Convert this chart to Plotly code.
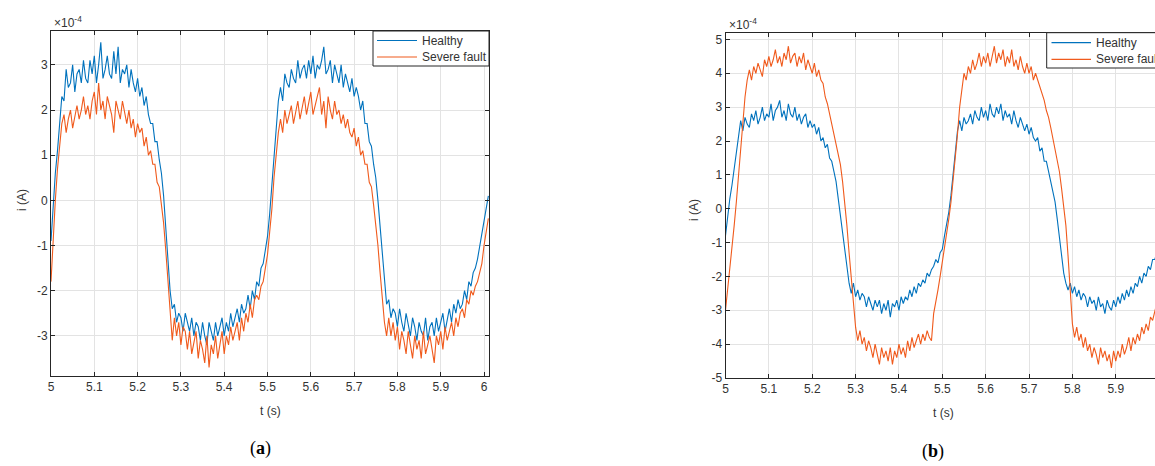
import plotly.graph_objects as go

# ---------------- data (current in units of 1e-4 A) ----------------
T_START = 5.0
DT = 0.005

healthy_a = [
    -0.9, 0.0, 0.6, 1.1, 1.7, 2.3, 2.2, 2.9, 2.5, 2.6,
    3.0, 2.4, 2.8, 2.9, 2.6, 3.1, 2.7, 2.6, 3.1, 2.8,
    3.2, 2.6, 3.0, 3.5, 2.7, 2.9, 3.2, 2.8, 2.7, 3.3,
    2.8, 3.4, 2.6, 2.9, 2.8, 3.0, 2.5, 2.9, 2.6, 2.4,
    2.7, 2.3, 2.5, 2.1, 2.3, 1.9, 1.7, 1.7, 1.3, 1.3,
    0.9, 0.6, 0.1, -0.6, -1.4, -2.0, -2.4, -2.3, -2.7, -2.5,
    -2.6, -2.9, -2.5, -2.7, -2.9, -2.6, -3.0, -2.7, -2.8, -3.1,
    -2.7, -3.0, -3.2, -2.7, -2.9, -3.1, -2.7, -3.0, -2.8, -2.6,
    -3.0, -2.7, -2.9, -2.5, -2.8, -2.6, -2.4, -2.7, -2.3, -2.5,
    -2.4, -2.1, -2.4, -2.0, -2.2, -1.8, -1.9, -1.5, -1.4, -1.1,
    -0.8, -0.3, 0.3, 0.9, 1.6, 2.2, 2.5, 2.2, 2.8, 2.6,
    2.5, 2.9, 2.7, 2.6, 3.1, 2.7, 2.9, 3.0, 2.7, 3.1,
    2.8, 3.2, 2.7, 3.0, 2.9, 3.1, 3.4, 2.8, 2.9, 3.1,
    2.6, 3.0, 2.8, 2.6, 3.0, 2.5, 2.8, 2.6, 2.4, 2.7,
    2.3, 2.5, 2.3, 2.0, 2.2, 1.7, 1.7, 1.3, 1.2, 0.8,
    0.5, 0.0, -0.6, -1.3, -1.9, -2.3, -2.2, -2.6, -2.4, -2.5,
    -2.8, -2.4, -2.7, -2.9, -2.5, -2.8, -3.0, -2.6, -2.8, -3.1,
    -2.7, -2.9, -3.0, -2.6, -3.1, -2.8, -2.7, -3.0, -2.6, -2.9,
    -2.7, -2.5, -2.9, -2.6, -2.4, -2.7, -2.3, -2.5, -2.2, -2.4,
    -2.3, -2.0, -2.2, -1.8, -1.9, -1.6, -1.5, -1.3, -1.0, -0.8,
    -0.5, -0.2, 0.1,
]

fault_a = [
    -1.8, -0.8, 0.0, 0.7, 1.3, 1.7, 1.9, 1.5, 1.8, 2.0,
    1.6, 1.9, 2.1, 1.8, 2.0, 2.3, 1.9, 2.1, 1.8, 2.2,
    2.4, 1.9, 2.6, 2.0, 2.2, 1.8, 2.3, 2.1, 1.9, 1.5,
    2.2, 2.0, 1.8, 2.2, 1.9, 1.7, 2.0, 1.6, 1.8, 1.4,
    1.7, 1.5, 1.6, 1.2, 1.4, 1.0, 1.1, 0.8, 0.8, 0.4,
    0.3, -0.1, -0.5, -1.1, -1.8, -2.5, -3.1, -2.6, -3.0, -2.7,
    -3.2, -2.8, -2.9, -3.3, -2.9, -3.4, -3.1, -2.9, -3.5, -3.1,
    -3.3, -3.6, -3.0, -3.7, -3.2, -3.4, -3.0, -3.5, -3.2, -2.9,
    -3.4, -3.0, -3.2, -2.8, -3.1, -2.9, -2.7, -3.1, -2.6, -2.9,
    -2.5, -2.7, -2.3, -2.6, -2.2, -2.1, -2.2, -1.9, -1.8, -1.5,
    -1.2, -0.7, -0.2, 0.5, 1.1, 1.5, 1.8, 1.5, 2.0, 1.7,
    1.9, 2.1, 1.7, 2.0, 2.2, 1.8, 2.1, 2.3, 1.9, 2.2,
    2.4, 1.9, 2.1, 2.3, 2.5, 1.9, 2.2, 1.6, 2.3, 2.0,
    1.8, 2.2, 1.9, 2.0, 1.7, 1.9, 1.6, 1.8, 1.5, 1.4,
    1.6, 1.2, 1.4, 1.0, 1.1, 0.8, 0.8, 0.4, 0.3, -0.1,
    -0.5, -1.0, -1.6, -2.2, -2.7, -3.0, -2.6, -3.0, -2.7, -3.1,
    -2.8, -3.3, -2.9, -3.1, -3.4, -2.9, -3.2, -3.5, -3.0, -3.3,
    -3.1, -3.5, -2.9, -3.4, -3.2, -3.0, -3.3, -3.6, -3.0, -3.2,
    -2.9, -3.3, -2.8, -3.1, -2.9, -2.7, -3.0, -2.6, -2.8, -2.5,
    -2.4, -2.6, -2.2, -2.3, -2.0, -2.1, -1.9, -1.8, -1.6, -1.4,
    -1.0, -0.7, -0.4,
]

healthy_b = [
    -0.8, -0.2, 0.3, 0.7, 1.2, 1.7, 2.2, 2.6, 2.3, 2.7,
    2.5, 2.4, 2.8, 2.6, 2.9, 2.5, 2.7, 3.0, 2.6, 2.8,
    2.7, 3.1, 2.6, 2.9, 3.0, 3.2, 2.7, 2.9, 2.6, 3.1,
    2.8, 2.7, 3.0, 2.6, 2.8, 2.5, 2.7, 2.8, 2.4, 2.6,
    2.4, 2.5, 2.2, 2.4, 2.0, 2.1, 1.8, 1.9, 1.5, 1.4,
    1.1, 0.8, 0.3, -0.2, -0.7, -1.3, -1.8, -2.2, -2.5, -2.2,
    -2.6, -2.4, -2.7, -2.5, -2.6, -2.9, -2.6, -2.8, -3.0, -2.7,
    -2.9, -2.7, -3.1, -2.8, -3.0, -2.7, -3.2, -2.8, -2.9, -2.7,
    -3.0, -2.6, -2.8, -2.6, -2.7, -2.4, -2.6, -2.3, -2.5, -2.2,
    -2.3, -2.1, -2.2, -1.9, -2.0, -1.8, -1.7, -1.5, -1.6, -1.3,
    -1.2, -0.8, -0.5, -0.1, 0.4, 1.0, 1.7, 2.3, 2.6, 2.3,
    2.7, 2.5, 2.6, 2.8, 2.5, 2.9, 2.7, 2.6, 3.0, 2.7,
    2.9, 2.6, 3.1, 2.8, 2.7, 3.0, 2.8, 3.1, 2.6, 2.9,
    2.7, 2.8, 2.5, 2.9, 2.6, 2.4, 2.7, 2.5, 2.3, 2.5,
    2.2, 2.4, 2.1, 2.0, 2.1, 1.7, 1.8, 1.4, 1.4, 1.1,
    0.8, 0.5, 0.2, -0.3, -0.8, -1.4, -1.9, -2.2, -2.4, -2.2,
    -2.5, -2.3, -2.6, -2.4, -2.7, -2.5, -2.6, -2.9, -2.6, -2.8,
    -2.7, -3.0, -2.6, -2.9, -2.8, -3.1, -2.7, -2.9, -3.0, -2.7,
    -2.9, -2.6, -2.8, -2.5, -2.7, -2.4, -2.6, -2.3, -2.5, -2.2,
    -2.3, -2.0, -2.2, -1.9, -2.0, -1.7, -1.8, -1.5, -1.5, -1.3,
    -1.1,
]

fault_b = [
    -3.0, -2.4, -1.9, -1.2, -0.5, 0.2, 1.0, 1.7, 2.5, 3.3,
    3.8, 4.1, 3.8, 4.2, 4.0, 4.3, 4.1, 3.9, 4.4, 4.2,
    4.5, 4.2, 4.4, 4.7, 4.3, 4.5, 4.2, 4.6, 4.4, 4.8,
    4.3, 4.5, 4.6, 4.2, 4.5, 4.3, 4.6, 4.1, 4.4, 4.2,
    4.0, 4.3, 3.9, 4.1, 3.8, 3.7, 3.3, 3.1, 2.8, 2.6,
    2.3, 2.0, 1.7, 1.3, 0.8, 0.2, -0.5, -1.3, -2.0, -2.8,
    -3.5, -3.9, -3.6, -4.0, -3.8, -4.2, -3.9, -4.1, -4.4, -4.0,
    -4.3, -4.6, -4.1, -4.4, -4.2, -4.5, -4.1, -4.6, -4.2, -4.4,
    -4.0, -4.3, -4.1, -4.4, -3.9, -4.2, -3.8, -4.1, -3.9, -3.7,
    -4.0, -3.7, -3.9, -3.6, -3.8, -3.9, -3.1, -2.8, -2.4, -2.0,
    -1.6, -1.2, -0.8, -0.3, 0.2, 0.8, 1.5, 2.2, 3.0, 3.6,
    4.0, 3.8, 4.2, 4.0, 4.4, 4.1, 4.3, 4.6, 4.2, 4.5,
    4.3, 4.6, 4.2, 4.5, 4.8, 4.3, 4.6, 4.4, 4.7, 4.2,
    4.5, 4.3, 4.7, 4.2, 4.4, 4.1, 4.5, 4.2, 4.0, 4.3,
    4.0, 4.2, 3.8, 4.0, 3.8, 3.6, 3.4, 3.2, 2.9, 2.7,
    2.4, 2.1, 1.8, 1.5, 1.1, 0.6, 0.1, -0.5, -1.4, -2.4,
    -3.4, -3.8, -3.5, -3.9, -3.7, -4.1, -3.8, -4.2, -4.0, -4.4,
    -4.1, -4.3, -4.6, -4.1, -4.4, -4.2, -4.5, -4.3, -4.7, -4.2,
    -4.5, -4.2, -4.4, -4.0, -4.3, -4.1, -3.8, -4.2, -3.8, -4.0,
    -3.7, -3.9, -3.5, -3.7, -3.4, -3.6, -3.2, -3.3, -3.0, -2.8,
    -2.5,
]

series_names = ["Healthy", "Severe fault"]

x_tick_vals = [5.0, 5.1, 5.2, 5.3, 5.4, 5.5, 5.6, 5.7, 5.8, 5.9, 6.0]
x_tick_text = ["5", "5.1", "5.2", "5.3", "5.4", "5.5", "5.6", "5.7", "5.8", "5.9", "6"]
ya_tick_vals = [-3, -2, -1, 0, 1, 2, 3]
ya_tick_text = ["-3", "-2", "-1", "0", "1", "2", "3"]
yb_tick_vals = [-5, -4, -3, -2, -1, 0, 1, 2, 3, 4, 5]
yb_tick_text = ["-5", "-4", "-3", "-2", "-1", "0", "1", "2", "3", "4", "5"]

# ---------------- styling ----------------
W, H = 1155, 466
BLUE = "#0072BD"
ORANGE = "#F05A1C"
COLORS = [BLUE, ORANGE]
AX = "#262626"
GRID = "#E3E3E3"
TXT = "#333333"
FONT = "Liberation Sans, Arial, sans-serif"


def times(vals):
    return [T_START + DT * i for i in range(len(vals))]


def px(x):
    return x / W


def py(y):
    return 1 - y / H


fig = go.Figure()

for vals, name, col in zip([healthy_a, fault_a], series_names, COLORS):
    fig.add_trace(go.Scatter(x=times(vals), y=vals, mode="lines", name=name,
                             line=dict(color=col, width=1.1), xaxis="x", yaxis="y", showlegend=False))
for vals, name, col in zip([healthy_b, fault_b], series_names, COLORS):
    fig.add_trace(go.Scatter(x=times(vals), y=vals, mode="lines", name=name,
                             line=dict(color=col, width=1.1), xaxis="x2", yaxis="y2", showlegend=False))

axis_common = dict(
    showline=True, linecolor=AX, linewidth=1, ticks="inside", ticklen=4, tickcolor=AX,
    showgrid=True, gridcolor=GRID, gridwidth=1, zeroline=False,
    tickfont=dict(family=FONT, size=12, color=TXT),
)

fig.update_layout(
    width=W, height=H,
    margin=dict(l=0, r=0, t=0, b=0, autoexpand=False),
    paper_bgcolor="white", plot_bgcolor="white",
    showlegend=False,
    xaxis=dict(domain=[px(51), px(489)], range=[5.0, 6.0115], anchor="y",
               tickvals=x_tick_vals, ticktext=x_tick_text, mirror="ticks", **axis_common),
    yaxis=dict(domain=[py(376), py(31)], range=[-3.89, 3.75], anchor="x",
               tickvals=ya_tick_vals, ticktext=ya_tick_text, mirror="ticks", **axis_common),
    xaxis2=dict(domain=[px(725.5), 1.0], range=[5.0, 5.9905], anchor="y2",
                tickvals=x_tick_vals, ticktext=x_tick_text, mirror="ticks", **axis_common),
    yaxis2=dict(domain=[py(378), py(33)], range=[-5.0, 5.19], anchor="x2",
                tickvals=yb_tick_vals, ticktext=yb_tick_text, mirror=False, **axis_common),
)

# ---- MATLAB-style legend boxes (drawn in paper space) ----
shapes = []
annotations = []
legend_boxes = [
    # box x0, y0, x1, y1, sample-line x0, x1, text x, row y's (pixels)
    (373, 31, 489, 66, 377, 417, 420, [40.5, 57]),
    (1046.7, 32.7, 1170, 68, 1051.5, 1091, 1094, [42.7, 59.3]),
]
for x0, y0, x1, y1, lx0, lx1, tx, rows in legend_boxes:
    shapes.append(dict(type="rect", xref="paper", yref="paper", x0=px(x0), x1=px(x1),
                       y0=py(y1), y1=py(y0), line=dict(color=AX, width=1), fillcolor="white",
                       layer="above"))
    for ry, name, col in zip(rows, series_names, COLORS):
        shapes.append(dict(type="line", xref="paper", yref="paper", x0=px(lx0), x1=px(lx1),
                           y0=py(ry), y1=py(ry), line=dict(color=col, width=1.2), layer="above"))
        annotations.append(dict(text=name, x=px(tx), y=py(ry), xanchor="left", yanchor="middle",
                                font=dict(family=FONT, size=12, color=TXT)))

ann_font = dict(family=FONT, size=12, color=TXT)
label_font = dict(family="Liberation Serif, DejaVu Serif, serif", size=18, color="black")

annotations += [
    dict(text="×10<sup>-4</sup>", x=px(52), y=py(22), xanchor="left", yanchor="middle", font=dict(family=FONT, size=12, color=TXT)),
    dict(text="×10<sup>-4</sup>", x=px(727), y=py(24), xanchor="left", yanchor="middle", font=dict(family=FONT, size=12, color=TXT)),
    dict(text="i (A)", x=px(22), y=py(200), textangle=-90, xanchor="center", yanchor="middle", font=ann_font),
    dict(text="i (A)", x=px(694), y=py(210), textangle=-90, xanchor="center", yanchor="middle", font=ann_font),
    dict(text="t (s)", x=px(270), y=py(411), xanchor="center", yanchor="middle", font=ann_font),
    dict(text="t (s)", x=px(943), y=py(413), xanchor="center", yanchor="middle", font=ann_font),
    dict(text="(<b>a</b>)", x=px(260), y=py(448), xanchor="center", yanchor="middle", font=label_font),
    dict(text="(<b>b</b>)", x=px(933), y=py(451), xanchor="center", yanchor="middle", font=label_font),
]
for a in annotations:
    a.update(xref="paper", yref="paper", showarrow=False)
fig.update_layout(annotations=annotations, shapes=shapes)

# remove the default 8px page margin so the figure sits at the window's top-left corner
fig.write_html("out.html",
               config={"displayModeBar": False},
               post_script="document.body.style.margin='0';document.body.style.overflow='hidden';")
